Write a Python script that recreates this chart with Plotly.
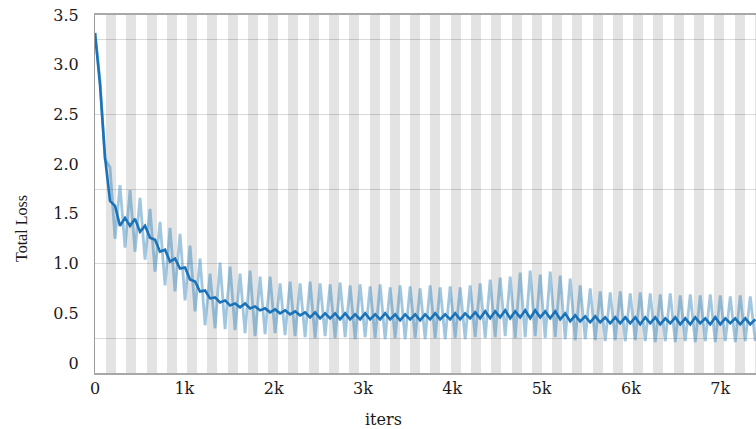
import plotly.graph_objects as go

# ---------------- data ----------------
log_step = 56                      # iterations between logged points
n_points = 133
iters = [i * log_step for i in range(n_points)]

raw_loss = [
    3.32, 2.85, 2.05, 1.97, 1.25, 1.79, 1.16, 1.74, 1.12, 1.66,
    1.04, 1.55, 0.92, 1.42, 0.78, 1.36, 0.72, 1.30, 0.63, 1.18,
    0.52, 1.05, 0.38, 0.90, 0.35, 1.01, 0.34, 0.97, 0.33, 0.90,
    0.30, 0.93, 0.27, 0.87, 0.29, 0.87, 0.30, 0.80, 0.28, 0.82,
    0.27, 0.80, 0.26, 0.82, 0.25, 0.80, 0.27, 0.79, 0.25, 0.81,
    0.26, 0.78, 0.24, 0.79, 0.26, 0.77, 0.25, 0.79, 0.24, 0.76,
    0.25, 0.78, 0.24, 0.77, 0.25, 0.75, 0.24, 0.78, 0.25, 0.76,
    0.24, 0.77, 0.25, 0.76, 0.24, 0.78, 0.26, 0.80, 0.25, 0.84,
    0.26, 0.86, 0.27, 0.87, 0.25, 0.91, 0.26, 0.93, 0.27, 0.89,
    0.25, 0.92, 0.26, 0.88, 0.24, 0.85, 0.23, 0.78, 0.24, 0.75,
    0.23, 0.72, 0.22, 0.71, 0.23, 0.72, 0.22, 0.70, 0.23, 0.71,
    0.22, 0.70, 0.21, 0.69, 0.22, 0.70, 0.21, 0.68, 0.22, 0.69,
    0.21, 0.68, 0.22, 0.69, 0.21, 0.68, 0.22, 0.67, 0.21, 0.68,
    0.22, 0.67, 0.22,
]

smooth_loss = [
    3.32, 2.80, 2.07, 1.63, 1.58, 1.38, 1.46, 1.38, 1.45, 1.32,
    1.38, 1.26, 1.24, 1.12, 1.14, 1.02, 1.05, 0.95, 0.96, 0.84,
    0.82, 0.72, 0.73, 0.65, 0.66, 0.61, 0.63, 0.58, 0.60, 0.56,
    0.60, 0.55, 0.57, 0.53, 0.55, 0.51, 0.54, 0.50, 0.53, 0.49,
    0.52, 0.48, 0.51, 0.46, 0.51, 0.45, 0.50, 0.45, 0.50, 0.44,
    0.50, 0.44, 0.49, 0.44, 0.50, 0.44, 0.49, 0.44, 0.50, 0.44,
    0.49, 0.43, 0.49, 0.44, 0.49, 0.43, 0.49, 0.44, 0.50, 0.44,
    0.49, 0.44, 0.50, 0.44, 0.50, 0.45, 0.51, 0.45, 0.52, 0.45,
    0.52, 0.46, 0.53, 0.45, 0.52, 0.46, 0.53, 0.45, 0.53, 0.46,
    0.52, 0.45, 0.52, 0.44, 0.50, 0.42, 0.48, 0.42, 0.47, 0.41,
    0.47, 0.41, 0.46, 0.40, 0.46, 0.40, 0.46, 0.40, 0.46, 0.39,
    0.46, 0.40, 0.46, 0.39, 0.45, 0.40, 0.46, 0.39, 0.45, 0.39,
    0.46, 0.40, 0.45, 0.39, 0.46, 0.39, 0.45, 0.40, 0.45, 0.39,
    0.45, 0.39, 0.44,
]

# alternating shaded epoch bands
epoch_len = 227
band_offset = 123
band_width = 112
band_starts = [band_offset + k * epoch_len for k in range(33)]

y_tick_vals = [0, 0.5, 1.0, 1.5, 2.0, 2.5, 3.0, 3.5]
y_tick_text = ["0", "0.5", "1.0", "1.5", "2.0", "2.5", "3.0", "3.5"]
y_grid_vals = [0.25, 1.0, 1.75, 2.5, 3.25]
x_tick_vals = [0, 1000, 2000, 3000, 4000, 5000, 6000, 7000]
x_tick_text = ["0", "1k", "2k", "3k", "4k", "5k", "6k", "7k"]

# ---------------- figure ----------------
fig = go.Figure()

fig.add_trace(go.Bar(
    x=[s + band_width / 2 for s in band_starts],
    y=[1] * len(band_starts),
    base=0,
    width=band_width,
    marker=dict(color="rgba(0,0,0,0.11)", line=dict(width=0)),
    xaxis="x", yaxis="y", hoverinfo="skip", showlegend=False,
))

fig.add_trace(go.Scatter(
    x=iters, y=raw_loss, mode="lines",
    line=dict(color="rgba(31,119,180,0.42)", width=2.8),
    xaxis="x", yaxis="y2", showlegend=False,
))
fig.add_trace(go.Scatter(
    x=iters, y=smooth_loss, mode="lines",
    line=dict(color="#1a72b8", width=2.6),
    xaxis="x", yaxis="y2", showlegend=False,
))

tick_font = dict(family="DejaVu Serif", size=16, color="#1a1a1a")

fig.update_layout(
    width=756, height=429,
    margin=dict(l=95, r=0, t=15, b=56),
    paper_bgcolor="white", plot_bgcolor="white",
    showlegend=False,
    bargap=0,
    xaxis=dict(
        range=[0, 7400],
        tickvals=x_tick_vals, ticktext=x_tick_text,
        tickfont=tick_font,
        showgrid=False, zeroline=False,
        showline=True, linecolor="#a8a8a8", linewidth=1.5, mirror=True,
        ticks="",
    ),
    yaxis=dict(range=[0, 1], visible=False, fixedrange=True),
    yaxis2=dict(
        overlaying="y", side="left", anchor="x",
        range=[-0.1, 3.5],
        tickvals=y_tick_vals, ticktext=y_tick_text,
        tickfont=tick_font,
        ticklabelstandoff=12,
        showgrid=False, zeroline=False,
        showline=True, linecolor="#9a9a9a", linewidth=1.2,
        ticks="",
        minor=dict(tickvals=y_grid_vals, showgrid=True,
                   gridcolor="#d9d9d9", gridwidth=1, ticks=""),
    ),
    annotations=[
        dict(text="iters", xref="paper", yref="paper",
             x=0.436, y=-0.131, xanchor="center", yanchor="middle",
             showarrow=False,
             font=dict(family="DejaVu Serif", size=16, color="#1a1a1a")),
        dict(text="Total Loss", xref="paper", yref="paper",
             x=-0.112, y=0.405, xanchor="center", yanchor="middle",
             textangle=-90, showarrow=False,
             font=dict(family="Liberation Serif", size=16, color="#1a1a1a")),
    ],
)

fig.write_html(
    "out.html",
    config={"displayModeBar": False},
    post_script="document.body.style.margin='0px';document.body.style.padding='0px';",
)
